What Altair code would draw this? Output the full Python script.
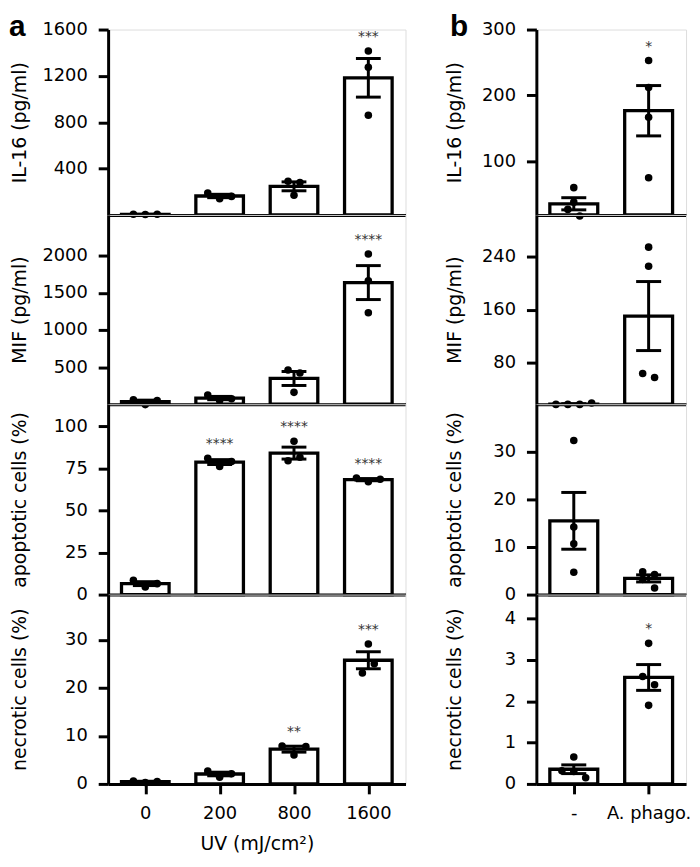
import json
import pandas as pd
import altair as alt

# ---------------- data ----------------
uv_doses = ["0", "200", "800", "1600"]
treatments = ["-", "A. phago."]

# panel a (UV dose), 3 replicates per dose
il16_uv = [[5, 3, 6], [190, 140, 160], [290, 280, 170], [1415, 1275, 860]]
mif_uv = [[60, -5, 50], [125, 50, 75], [460, 420, 160], [2020, 1660, 1230]]
apo_uv = [[8.5, 4.5, 6.5], [81, 76, 79], [79.5, 81.5, 91], [69.2, 67, 68.5]]
nec_uv = [[0.6, 0.3, 0.5], [2.7, 1.4, 2.1], [7.9, 6.0, 7.8], [29.1, 23.1, 25.0]]

# panel b (A. phagocytophilum), 4 replicates
il16_tx = [[60, 38, 27, 17], [253, 212, 167, 75]]
mif_tx = [[16, 16, 16, 18], [255, 226, 63, 57]]
apo_tx = [[32.4, 14.2, 10.7, 4.7], [4.8, 4.2, 3.2, 1.4]]
nec_tx = [[0.65, 0.32, 0.30, 0.15], [3.4, 2.6, 2.4, 1.9]]

stars_uv = [["", "", "", "***"], ["", "", "", "****"],
            ["", "****", "****", "****"], ["", "", "**", "***"]]
stars_tx = [["", "*"], ["", ""], ["", ""], ["", "*"]]

y_titles = ["IL-16 (pg/ml)", "MIF (pg/ml)", "apoptotic cells (%)", "necrotic cells (%)"]
x_title_uv = "UV (mJ/cm²)"
panel_labels = ["a", "b"]

domains_uv = [[0, 1600], [0, 2547], [0, 113], [0, 39.4]]
ticks_uv = [[400, 800, 1200, 1600], [500, 1000, 1500, 2000], [0, 25, 50, 75, 100], [0, 10, 20, 30]]
domains_tx = [[18.6, 300], [16.2, 304], [0, 40], [0, 4.58]]
ticks_tx = [[100, 200, 300], [80, 160, 240], [0, 10, 20, 30], [0, 1, 2, 3, 4]]

# ---------------- layout / style ----------------
FONT = "DejaVu Sans"
ROW_H = [187, 191, 192, 191]
W_UV = 300
W_TX = 151
DOT_D = 12.0     # horizontal spacing of overlapping dots (px)
ROW_TOL = 9.5    # vertical closeness (px) for dots to share a row


def swarm_offsets(vals, ppu_y, ppu_x):
    order = sorted(range(len(vals)), key=lambda i: vals[i])
    rows = []
    for i in order:
        if rows and abs(vals[i] - vals[rows[-1][0]]) * ppu_y < ROW_TOL:
            rows[-1].append(i)
        else:
            rows.append([i])
    off = [0.0] * len(vals)
    for r in rows:
        r = sorted(r)
        k = len(r)
        for j, i in enumerate(r):
            off[i] = (j - (k - 1) / 2) * DOT_D / ppu_x
    return off


def build_df(groups, stars, ppu_y, ppu_x):
    rec = []
    for gi, vals in enumerate(groups):
        offs = swarm_offsets(vals, ppu_y, ppu_x)
        for v, o in zip(vals, offs):
            rec.append({"idx": gi, "value": v, "dx": o, "star": stars[gi]})
    return pd.DataFrame(rec)


def y_axis(ticks, title, height, title_x):
    return alt.Axis(values=ticks, format="d", title=title, titleX=title_x, titleY=height / 2,
                    titleAngle=270, titleAlign="center", titleBaseline="middle",
                    titleFont=FONT, titleFontSize=19, titleFontWeight="normal", titleColor="black",
                    labelFont=FONT, labelFontSize=18, labelColor="black", labelPadding=11,
                    labelFlush=False, labelOverlap=False,
                    domainColor="black", domainWidth=3, tickColor="black", tickWidth=3,
                    tickSize=10, grid=False)


def x_axis(cats, bottom, title):
    if bottom:
        kw = dict(values=list(range(len(cats))),
                  labelExpr=json.dumps(cats) + "[datum.value]",
                  labelFont=FONT, labelFontSize=18, labelColor="black", labelPadding=11,
                  labelFlush=False, labelOverlap=False,
                  tickSize=10, tickWidth=3, tickColor="black")
        if title:
            kw.update(title=title, titleFont=FONT, titleFontSize=19, titleFontWeight="normal",
                      titleColor="black", titlePadding=12)
        else:
            kw["title"] = None
    else:
        kw = dict(labels=False, ticks=False, title=None)
    return alt.Axis(domainColor="black", domainWidth=3, grid=False, **kw)


def panel(groups, stars, cats, dom, ticks, ytitle, height, width, title_x,
          bottom, xtitle, label=None, label_x=0):
    n = len(cats)
    ppu_x = width / n
    ppu_y = height / (dom[1] - dom[0])
    df = build_df(groups, stars, ppu_y, ppu_x)
    xs = alt.Scale(domain=[-0.5, n - 0.5], nice=False, zero=False)
    ys = alt.Scale(domain=dom, nice=False, zero=False)
    xa = x_axis(cats, bottom, xtitle)
    ya = y_axis(ticks, ytitle, height, title_x)

    base = alt.Chart(df)
    summ = base.transform_aggregate(
        mean="mean(value)", sem="stderr(value)", vmax="max(value)", groupby=["idx", "star"]
    ).transform_calculate(
        lo="datum.mean - datum.sem", hi="datum.mean + datum.sem",
        top="max(datum.vmax, datum.mean + datum.sem)",
        x0="datum.idx - 0.32", x1="datum.idx + 0.32",
        c0="datum.idx - 0.167", c1="datum.idx + 0.167",
    )
    X = lambda f: alt.X(f, scale=xs, axis=xa)
    Y = lambda f: alt.Y(f, scale=ys, axis=ya)

    bars = summ.mark_bar(fill="white", stroke="black", strokeWidth=3.3).encode(
        x=X("x0:Q"), x2="x1:Q", y=Y("mean:Q"), y2=alt.datum(dom[0]))
    err = summ.mark_rule(color="black", strokeWidth=3).encode(
        x=X("idx:Q"), y=Y("lo:Q"), y2="hi:Q")
    cap_hi = summ.mark_rule(color="black", strokeWidth=3).encode(
        x=X("c0:Q"), x2="c1:Q", y=Y("hi:Q"))
    cap_lo = summ.mark_rule(color="black", strokeWidth=3).encode(
        x=X("c0:Q"), x2="c1:Q", y=Y("lo:Q"))
    pts = base.transform_calculate(xp="datum.idx + datum.dx").mark_circle(
        size=58, color="black", opacity=1).encode(x=X("xp:Q"), y=Y("value:Q"))
    st = summ.mark_text(font=FONT, fontSize=14, color="#333333", baseline="alphabetic",
                        dy=-10).encode(x=X("idx:Q"), y=Y("top:Q"), text="star:N")
    layers = [bars, err, cap_hi, cap_lo, pts, st]
    if label:
        lab = alt.Chart(pd.DataFrame({"lab": [label]})).mark_text(
            font="Liberation Sans", fontWeight="bold", fontSize=30, align="left",
            baseline="top", color="black").encode(
            text="lab:N", x=alt.value(label_x), y=alt.value(-17))
        layers.append(lab)
    return alt.layer(*layers).properties(width=width, height=height)


uv_sets = [il16_uv, mif_uv, apo_uv, nec_uv]
tx_sets = [il16_tx, mif_tx, apo_tx, nec_tx]

left_rows = []
right_rows = []
for r in range(4):
    left_rows.append(panel(uv_sets[r], stars_uv[r], uv_doses, domains_uv[r], ticks_uv[r],
                           y_titles[r], ROW_H[r], W_UV, -89, r == 3, x_title_uv if r == 3 else None,
                           panel_labels[0] if r == 0 else None, -100))
    right_rows.append(panel(tx_sets[r], stars_tx[r], treatments, domains_tx[r], ticks_tx[r],
                            y_titles[r], ROW_H[r], W_TX, -83, r == 3, None,
                            panel_labels[1] if r == 0 else None, -87))

left = alt.vconcat(*left_rows, spacing=0, bounds="flush")
right = alt.vconcat(*right_rows, spacing=0, bounds="flush")
chart = alt.hconcat(left, right, spacing=38, bounds="full").properties(
    padding={"left": 0, "top": 0, "right": 0, "bottom": 0}
).configure_view(stroke=None).configure(background="white")

chart.save("out.html", embed_options={"renderer": "svg", "actions": False})
